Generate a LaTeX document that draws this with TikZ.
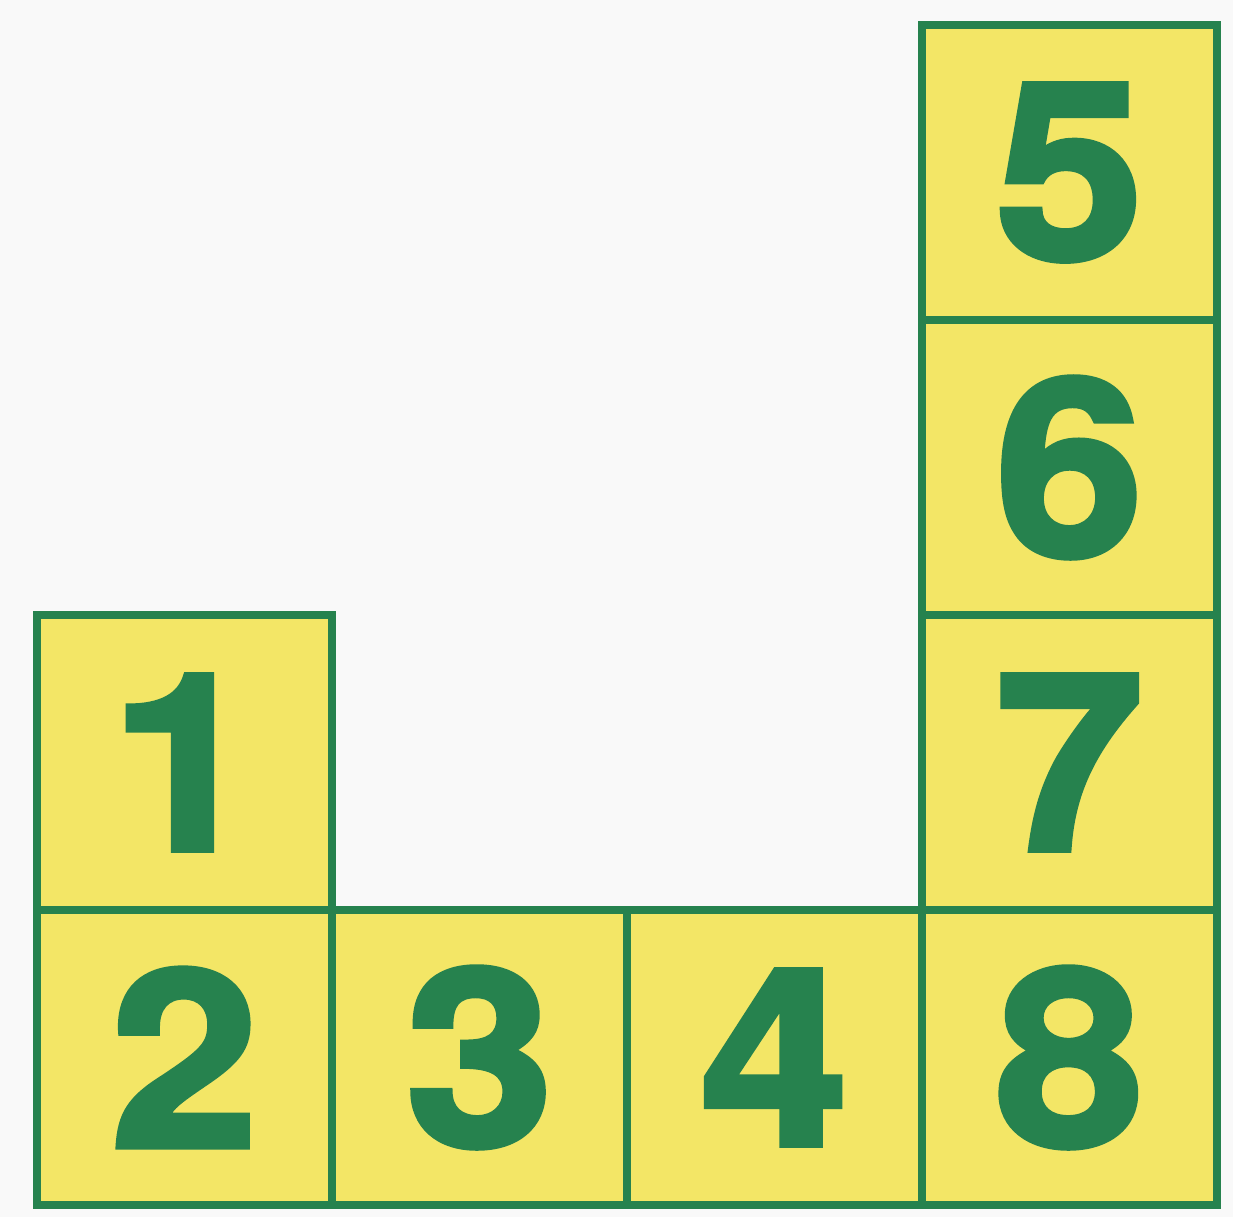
\documentclass[tikz,border=0pt]{standalone}
\usepackage{fontspec}
\setmainfont{TeX Gyre Heros}
\newfontfamily\digitfont[BoldFeatures={FakeBold=2.5, FakeStretch=1.08}]{TeX Gyre Heros}
\usepackage{tikz}
\usetikzlibrary{positioning}
\usepackage{xcolor}
\definecolor{tileYellow}{RGB}{243, 230, 102}
\definecolor{tileGreen}{RGB}{38, 130, 78}
\definecolor{paperWhite}{RGB}{249, 249, 249}

\begin{document}
\begin{tikzpicture}[
    cell/.style={
        rectangle, minimum size=2.95cm, inner sep=0pt, outer sep=0pt,
        draw=tileGreen, fill=tileYellow, line width=2.3pt,
        text=tileGreen, font=\digitfont\bfseries\fontsize{70}{70}\selectfont
    }
]
\fill[paperWhite] (0,0) rectangle (12.33,12.17);
\useasboundingbox (0,0) rectangle (12.33,12.17);
% bottom row
\node[cell] (two) at (1.845,1.595) {2};
\node[cell, right=0pt of two] (three) {3};
\node[cell, right=0pt of three] (four) {4};
\node[cell, right=0pt of four] (eight) {8};
% left column
\node[cell, above=0pt of two] (one) {1};
% right column
\node[cell, above=0pt of eight] (seven) {7};
\node[cell, above=0pt of seven] (six) {6};
\node[cell, above=0pt of six] (five) {5};
\end{tikzpicture}
\end{document}
